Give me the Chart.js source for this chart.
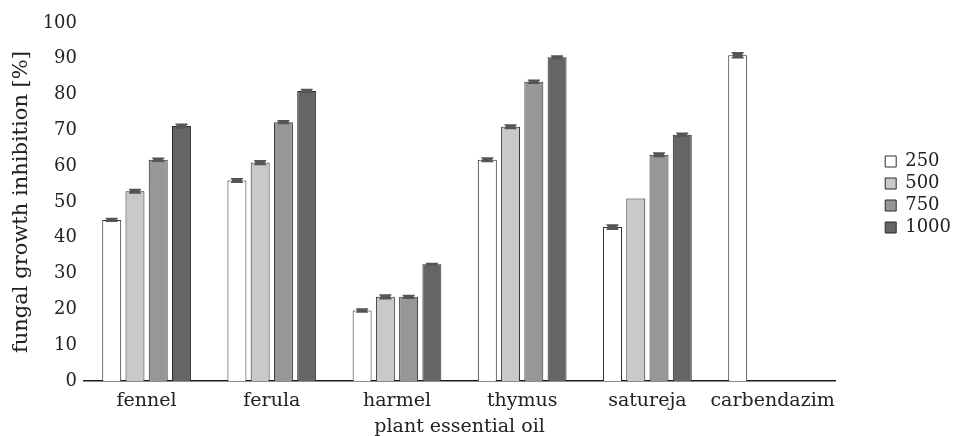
<!DOCTYPE html>
<html>
<head>
<meta charset="utf-8">
<style>
  html, body { margin: 0; padding: 0; background: #fff; }
  #wrap { width: 956px; height: 436px; }
</style>
</head>
<body>
<div id="wrap"><canvas id="inhibitionChart"></canvas></div>

<script src="https://cdn.jsdelivr.net/npm/chart.js"></script>
<script>
    const oils = ["fennel", "ferula", "harmel", "thymus", "satureja", "carbendazim"];
    const doses = ["250", "500", "750", "1000"];

    const inhibition250 = [45, 56, 19.7, 61.8, 43, 91];
    const inhibition500 = [53, 61, 23.5, 71, 51, null];
    const inhibition750 = [61.8, 72.3, 23.5, 83.6, 63.2, null];
    const inhibition1000 = [71.2, 81, 32.6, 90.4, 68.8, null];

    const error250 = [0.4, 0.5, 0.4, 0.5, 0.6, 0.7];
    const error500 = [0.5, 0.5, 0.5, 0.5, 0, 0];
    const error750 = [0.4, 0.4, 0.4, 0.4, 0.5, 0];
    const error1000 = [0.5, 0.4, 0.2, 0.4, 0.4, 0];

    const yTicks = [0, 10, 20, 30, 40, 50, 60, 70, 80, 90, 100];

    const fills = ["#ffffff", "#c9c9c9", "#979797", "#656565"];
    const serif = "'DejaVu Serif', 'Liberation Serif', serif";

    Chart.defaults.font.family = serif;
    Chart.defaults.color = "#222";

    const values = [inhibition250, inhibition500, inhibition750, inhibition1000];
    const errors = [error250, error500, error750, error1000];

    // small std-error marks on top of each bar
    const errorBars = {
        id: "errorBars",
        afterDatasetsDraw(chart) {
            const ctx = chart.ctx;
            const y = chart.scales.y;
            ctx.save();
            ctx.strokeStyle = "#555";
            ctx.fillStyle = "#555";
            ctx.lineWidth = 1.5;
            chart.data.datasets.forEach((ds, i) => {
                const meta = chart.getDatasetMeta(i);
                meta.data.forEach((bar, j) => {
                    const v = ds.data[j];
                    const e = ds.errors[j];
                    if (v == null || !e) return;
                    const top = y.getPixelForValue(v + e);
                    const bottom = y.getPixelForValue(v - e);
                    const half = 5;
                    ctx.fillRect(bar.x - half, top, half * 2, Math.max(bottom - top, 2));
                    ctx.beginPath();
                    ctx.moveTo(bar.x - half - 1, top);
                    ctx.lineTo(bar.x + half + 1, top);
                    ctx.moveTo(bar.x - half - 1, bottom);
                    ctx.lineTo(bar.x + half + 1, bottom);
                    ctx.stroke();
                });
            });
            ctx.restore();
        }
    };

    // put the legend block where the original has it
    const legendShift = {
        id: "legendShift",
        afterLayout(chart) {
            const lg = chart.legend;
            lg.top = chart.chartArea.top;
            lg.bottom = chart.chartArea.bottom - 15;
            lg.left += 5;
            lg.right += 5;
        }
    };

    new Chart(document.getElementById("inhibitionChart"), {
        type: "bar",
        data: {
            labels: oils,
            datasets: doses.map((d, i) => ({
                label: d,
                data: values[i],
                errors: errors[i],
                backgroundColor: fills[i],
                borderColor: "#2a2a2a",
                borderWidth: 1,
                categoryPercentage: 0.743,
                barPercentage: 0.815
            }))
        },
        options: {
            responsive: true,
            maintainAspectRatio: false,
            animation: false,
            layout: { padding: { top: 23, bottom: 0, left: 0, right: 0 } },
            plugins: {
                legend: {
                    position: "right",
                    align: "center",
                    labels: {
                        boxWidth: 11,
                        boxHeight: 11,
                        padding: 4,
                        font: { size: 18 },
                        color: "#222"
                    }
                },
                tooltip: { enabled: false }
            },
            scales: {
                x: {
                    grid: { display: false, drawTicks: false },
                    border: { display: true, color: "#1a1a1a", width: 1.5 },
                    ticks: { padding: 9, font: { size: 19 }, maxRotation: 0, minRotation: 0, autoSkip: false },
                    title: {
                        display: true,
                        text: "plant essential oil",
                        font: { size: 19 },
                        padding: { top: 0, bottom: -2 }
                    },
                    afterFit: s => { s.height = 55; }
                },
                y: {
                    min: 0,
                    max: 100,
                    afterBuildTicks: s => { s.ticks = yTicks.map(v => ({ value: v })); },
                    grid: { display: false, drawTicks: false },
                    border: { display: false },
                    ticks: { padding: 7, font: { size: 18 } },
                    title: {
                        display: true,
                        text: "fungal growth inhibition [%]",
                        font: { size: 21 },
                        padding: { top: 9, bottom: 0 }
                    },
                    afterFit: s => { s.width = 84; }
                },
                gap: {
                    position: "right",
                    display: true,
                    grid: { display: false, drawTicks: false },
                    border: { display: false },
                    ticks: { display: false },
                    afterFit: s => { s.width = 41; }
                }
            }
        },
        plugins: [errorBars, legendShift]
    });
</script>
</body>
</html>
